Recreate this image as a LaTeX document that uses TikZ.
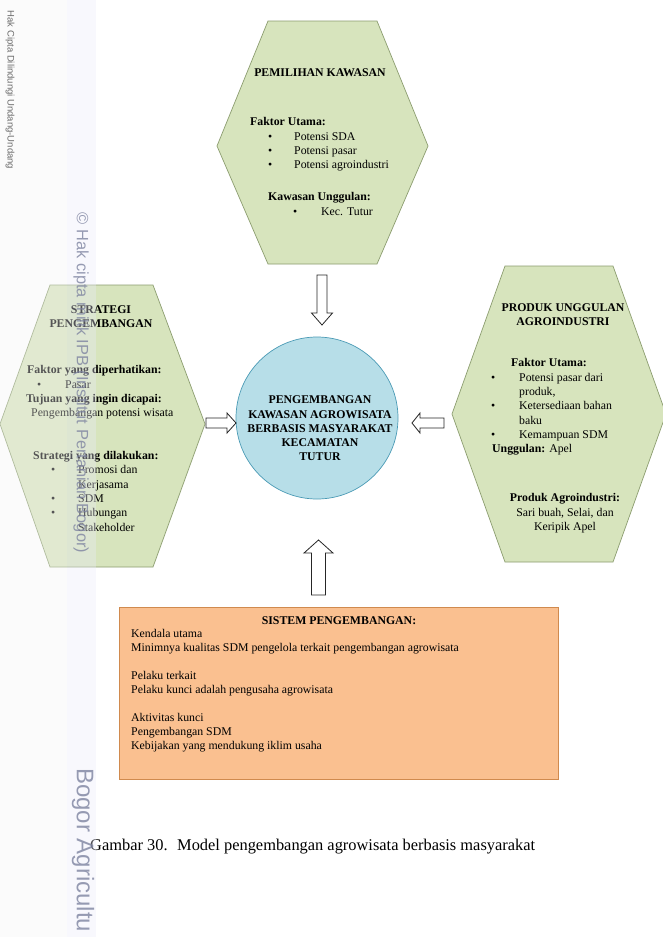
\documentclass[tikz,border=0pt]{standalone}
\usepackage{fontspec}
\setmainfont{Liberation Serif}
\newfontfamily\wmfont{Liberation Sans}
\definecolor{hexfill}{HTML}{D7E4BD}
\definecolor{hexline}{HTML}{8C9D70}
\definecolor{circfill}{HTML}{B7DEE8}
\definecolor{circline}{HTML}{4A9AB5}
\definecolor{boxfill}{HTML}{FAC090}
\definecolor{boxline}{HTML}{D08A4E}
\definecolor{wmblue}{HTML}{7D83A0}
\definecolor{wmgrey}{HTML}{6B6B6B}
\newcommand\bulit[2]{\makebox[#2][l]{\hspace*{#1}\textbullet}}
\tikzset{
  hexshape/.style={fill=hexfill, draw=hexline, line width=0.7pt},
  blockarrow/.style={fill=white, draw=black!85, line width=0.8pt, line join=miter},
  txt/.style={font=\fontsize{11.8}{14.3}\selectfont, inner sep=0pt, align=left},
  titletxt/.style={font=\fontsize{11.8}{14.2}\selectfont\bfseries, inner sep=0pt, align=center},
  wm/.style={inner sep=0pt, rotate=-90}
}
\begin{document}
\begin{tikzpicture}[x=1pt,y=-1pt]
\useasboundingbox (0,0) rectangle (662,937);
\fill[white] (0,0) rectangle (662,937);

% hexagons
\draw[hexshape] (268,21) -- (377,21) -- (428,146) -- (377,264) -- (268,264) -- (217,146) -- cycle;
\draw[hexshape] (50,285) -- (153,285) -- (205,424) -- (153,567) -- (50,567) -- (0,424) -- cycle;
\draw[hexshape] (505,266) -- (613,266) -- (666,414) -- (613,562) -- (505,562) -- (452,414) -- cycle;

% central circle
\node[circle, minimum size=162pt, inner sep=0pt, fill=circfill, draw=circline, line width=0.7pt] (hub) at (317,418) {};

% bottom box
\node[anchor=north west, minimum width=439pt, minimum height=172pt, inner sep=0pt, fill=boxfill, draw=boxline, line width=0.9pt] (box) at (119,607) {};

% block arrows
\draw[blockarrow] (317,275) -- (327,275) -- (327,313) -- (332.5,313) -- (322,325) -- (311.5,313) -- (317,313) -- cycle;
\draw[blockarrow] (311.5,595) -- (325.5,595) -- (325.5,553) -- (333,553) -- (318.5,540) -- (304,553) -- (311.5,553) -- cycle;
\draw[blockarrow] (206,418) -- (227,418) -- (227,413) -- (236,423) -- (227,433) -- (227,428) -- (206,428) -- cycle;
\draw[blockarrow] (444,418) -- (420,418) -- (420,413) -- (412,423) -- (420,433) -- (420,428) -- (444,428) -- cycle;

% top hexagon text
\node[titletxt] (t1) at (320,73) {PEMILIHAN KAWASAN};
\node[txt, anchor=north west] (t1b) at (250,117.5) {%
\textbf{Faktor Utama:}\\
\bulit{18pt}{44pt}Potensi SDA\\
\bulit{18pt}{44pt}Potensi pasar\\
\bulit{18pt}{44pt}Potensi agroindustri\\[17.7pt]
\hspace*{18pt}\textbf{Kawasan Unggulan:}\\
\bulit{43pt}{71pt}Kec. Tutur};

% left hexagon text
\node[titletxt] (t2) at (101,317) {STRATEGI\\PENGEMBANGAN};
\node[txt, anchor=north west] (t2b) at (26,365.5) {%
\hspace*{1pt}\textbf{Faktor yang diperhatikan:}\\
\bulit{11pt}{39pt}Pasar\\
\textbf{Tujuan yang ingin dicapai:}\\
\hspace*{5pt}Pengembangan potensi wisata\\[28.6pt]
\hspace*{7pt}\textbf{Strategi yang dilakukan:}\\
\bulit{25pt}{52pt}Promosi dan\\
\hspace*{52pt}Kerjasama\\
\bulit{25pt}{52pt}SDM\\
\bulit{25pt}{52pt}Hubungan\\
\hspace*{52pt}Stakeholder};

% right hexagon text
\node[titletxt] (t3) at (563,315) {PRODUK UNGGULAN\\AGROINDUSTRI};
\node[txt, anchor=north west] (t3b) at (491,358.5) {%
\hspace*{20pt}\textbf{Faktor Utama:}\\
\bulit{0pt}{28pt}Potensi pasar dari\\
\hspace*{28pt}produk,\\
\bulit{0pt}{28pt}Ketersediaan bahan\\
\hspace*{28pt}baku\\
\bulit{0pt}{28pt}Kemampuan SDM\\
\hspace*{1pt}\textbf{Unggulan:} Apel};
\node[txt, align=center, anchor=north] (t3c) at (565,493.5) {%
\textbf{Produk Agroindustri:}\\
Sari buah, Selai, dan\\
Keripik Apel};

% circle text
\node[titletxt] (hubtxt) at (320,428.5) {PENGEMBANGAN\\KAWASAN AGROWISATA\\BERBASIS MASYARAKAT\\KECAMATAN\\TUTUR};

% box text
\node[titletxt] (boxt) at (339,621) {SISTEM PENGEMBANGAN:};
\node[txt, anchor=north west, font=\fontsize{11.8}{13.9}\selectfont] (boxb) at (131,629.5) {%
Kendala utama\\
Minimnya kualitas SDM pengelola terkait pengembangan agrowisata\\[13.9pt]
Pelaku terkait\\
Pelaku kunci adalah pengusaha agrowisata\\[13.9pt]
Aktivitas kunci\\
Pengembangan SDM\\
Kebijakan yang mendukung iklim usaha};

% caption
\node[anchor=base west, inner sep=0pt, font=\fontsize{16.4}{19}\selectfont] (cap) at (90,850) {Gambar 30.~ Model pengembangan agrowisata berbasis masyarakat};

% watermark overlays
\fill[white!96!black, opacity=0.35] (0,0) rectangle (67,937);
\fill[black!20!blue!8!white, opacity=0.35] (67,0) rectangle (96,937);
\node[wm, text=wmgrey, font=\wmfont\fontsize{9.5}{10}\selectfont] (wm1) at (10,90) {Hak Cipta Dilindungi Undang-Undang};
\node[wm, text=wmblue, opacity=0.8, font=\wmfont\fontsize{16.4}{18}\selectfont] (wm2) at (81,383) {© Hak cipta milik IPB (Institut Pertanian Bogor)};
\node[wm, text=wmblue, opacity=0.8, anchor=west, font=\wmfont\fontsize{24}{27}\selectfont] (wm3) at (83,768) {Bogor Agricultu};
\end{tikzpicture}
\end{document}
